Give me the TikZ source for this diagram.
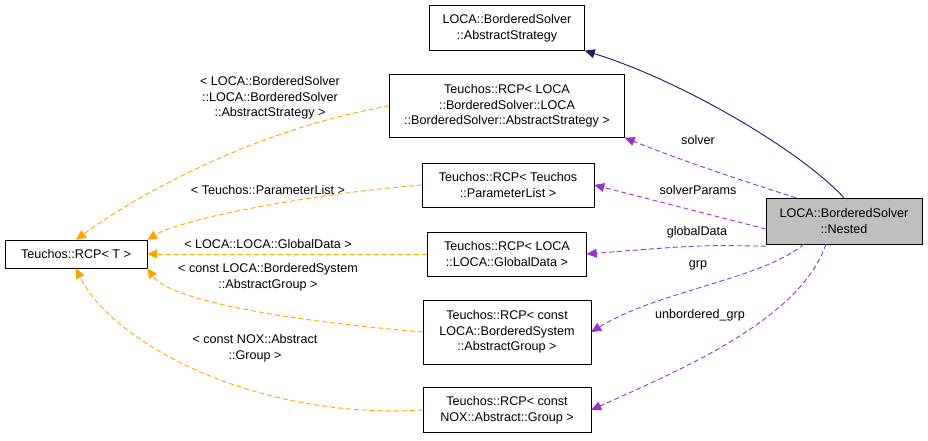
\documentclass[tikz,border=0pt]{standalone}
\usepackage{fontspec}
\setmainfont{Liberation Sans}
\usetikzlibrary{arrows.meta}
\definecolor{navyedge}{RGB}{25,25,112}
\definecolor{purpleedge}{RGB}{153,50,204}
\definecolor{orangeedge}{RGB}{255,165,0}
\tikzset{
  cls/.style={draw,fill=white,align=center,inner sep=0pt,font=\fontsize{12.6}{15.5}\selectfont},
  lbl/.style={align=center,font=\fontsize{12.6}{15.5}\selectfont,inner sep=1pt,text=black},
  inherit/.style={navyedge,line width=0.9pt,-{Triangle[length=10pt,width=9pt]}},
  usage/.style={purpleedge,line width=0.9pt,dash pattern=on 5pt off 3pt,-{Triangle[length=10pt,width=9pt]}},
  templ/.style={orangeedge,line width=0.9pt,dash pattern=on 5pt off 3pt,-{Triangle[length=10pt,width=9pt]}}
}
\begin{document}
\begin{tikzpicture}[x=1pt,y=-1pt]
    \useasboundingbox (0,0) rectangle (928,440);
    % Classes
    \node[cls,minimum width=155,minimum height=45] (strat) at (507,28) {LOCA::BorderedSolver\\::AbstractStrategy};
    \node[cls,minimum width=235,minimum height=63] (rcpstrat) at (507,106) {Teuchos::RCP< LOCA\\::BorderedSolver::LOCA\\::BorderedSolver::AbstractStrategy >};
    \node[cls,minimum width=172,minimum height=44] (rcpparams) at (508,185) {Teuchos::RCP< Teuchos\\::ParameterList >};
    \node[cls,minimum width=159,minimum height=44] (rcpglobal) at (507,254) {Teuchos::RCP< LOCA\\::LOCA::GlobalData >};
    \node[cls,minimum width=168,minimum height=64] (rcpgrp) at (507,332) {Teuchos::RCP< const\\LOCA::BorderedSystem\\::AbstractGroup >};
    \node[cls,minimum width=168,minimum height=45] (rcpnox) at (507,410) {Teuchos::RCP< const\\NOX::Abstract::Group >};
    \node[cls,minimum width=142,minimum height=28] (rcpT) at (76,254) {Teuchos::RCP< T >};
    \node[cls,fill={rgb,255:red,191;green,191;blue,191},minimum width=156,minimum height=46] (nested) at (844,221) {LOCA::BorderedSolver\\::Nested};

    % Inheritance and usage
    \draw[inherit] (nested.north) .. controls (800,150) and (680,80) .. (strat.south east);
    \draw[usage] ([xshift=-48pt]nested.north) .. controls (740,180) and (680,160) .. (rcpstrat.south east);
    \draw[usage] ([yshift=-8pt]nested.west) -- (rcpparams.east);
    \draw[usage] ([yshift=-2pt]nested.south west) .. controls (700,245) .. (rcpglobal.east);
    \draw[usage] ([xshift=-40pt]nested.south) .. controls (760,280) and (660,290) .. (rcpgrp.east);
    \draw[usage] ([xshift=-18pt]nested.south) .. controls (800,320) and (680,370) .. (rcpnox.east);
    \node[lbl] at (698,140) {solver};
    \node[lbl] at (698,190) {solverParams};
    \node[lbl] at (697,232) {globalData};
    \node[lbl] at (698,265) {grp};
    \node[lbl] at (700,315) {unbordered\_grp};

    % Template instances
    \draw[templ] (rcpstrat.west) .. controls (250,130) and (130,200) .. (rcpT.north);
    \draw[templ] (rcpparams.west) .. controls (300,195) and (180,220) .. (rcpT.north east);
    \draw[templ] (rcpglobal.west) -- (rcpT.east);
    \draw[templ] (rcpgrp.west) .. controls (280,320) and (170,300) .. (rcpT.south east);
    \draw[templ] (rcpnox.west) .. controls (250,420) and (110,340) .. (rcpT.south);
    \node[lbl] at (270,98) {< LOCA::BorderedSolver\\::LOCA::BorderedSolver\\::AbstractStrategy >};
    \node[lbl] at (268,190) {< Teuchos::ParameterList >};
    \node[lbl] at (268,244) {< LOCA::LOCA::GlobalData >};
    \node[lbl] at (268,277) {< const LOCA::BorderedSystem\\::AbstractGroup >};
    \node[lbl] at (255,348) {< const NOX::Abstract\\::Group >};
\end{tikzpicture}
\end{document}
